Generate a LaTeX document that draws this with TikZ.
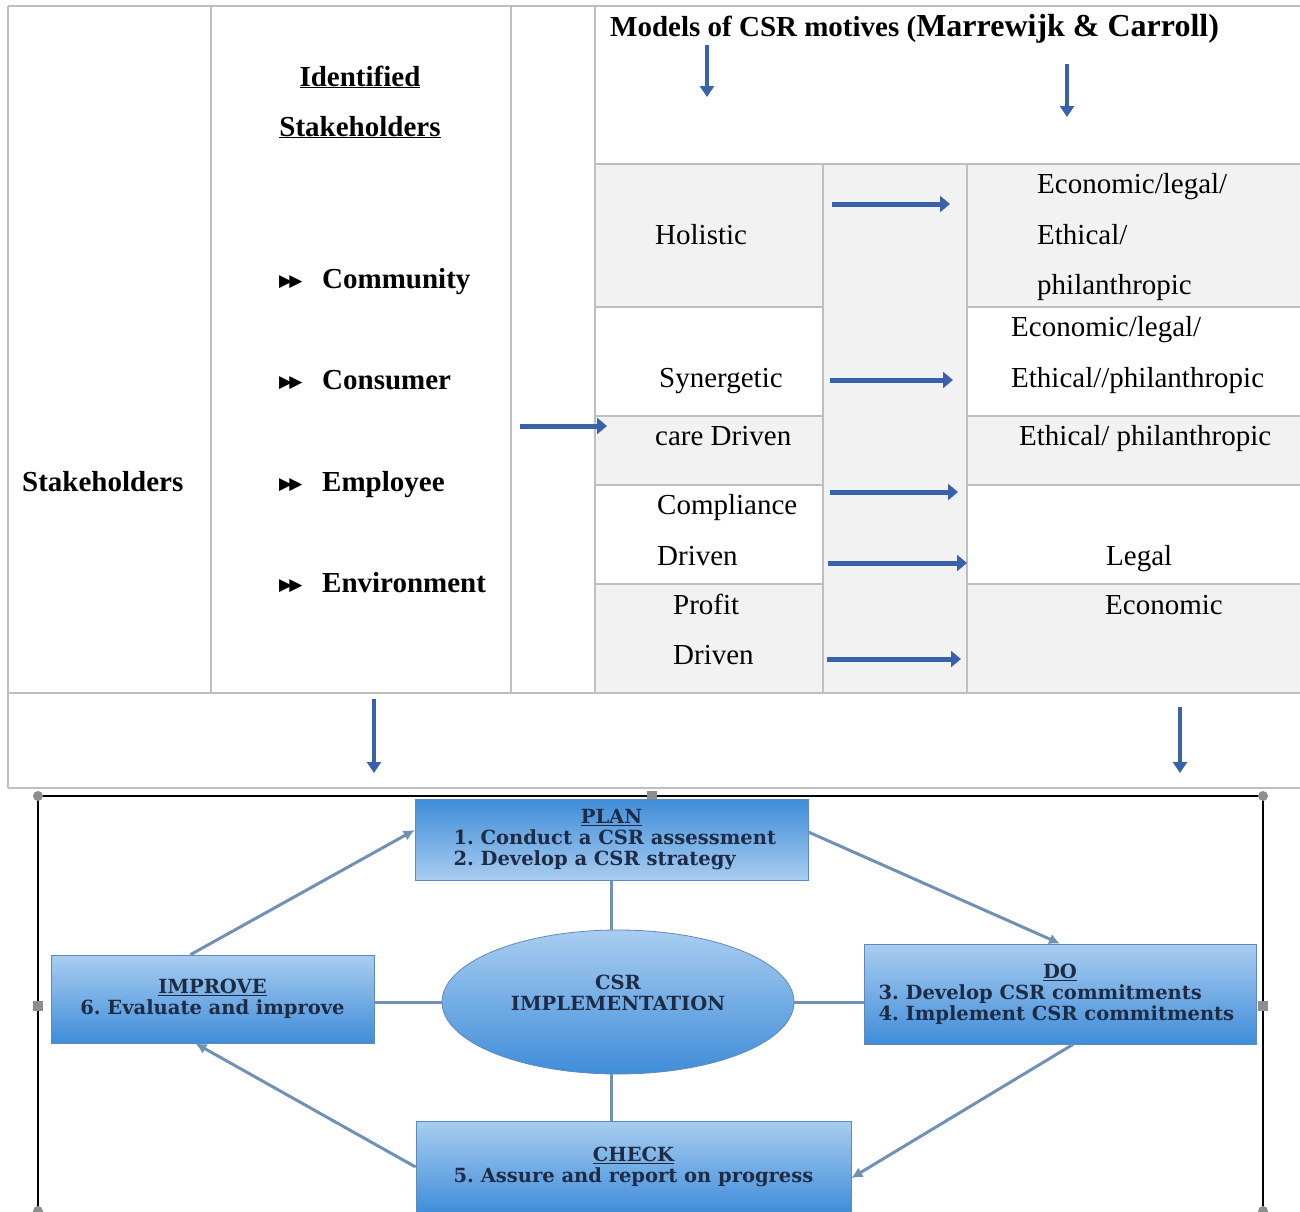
\documentclass[tikz,border=0pt]{standalone}
\usepackage{fontspec}
\setmainfont{Liberation Serif}
\newfontfamily\cyclefont{DejaVu Serif}
\newfontfamily\bulletfont{DejaVu Sans}
\usetikzlibrary{arrows.meta,shapes.geometric}

\definecolor{gridgrey}{HTML}{BFBFBF}
\definecolor{cellgrey}{HTML}{F2F2F2}
\definecolor{arrowblue}{HTML}{3A62AC}
\definecolor{boxblue}{HTML}{3F8DD9}
\definecolor{boxlight}{HTML}{A9CDF0}
\definecolor{boxedge}{HTML}{5E89BC}
\definecolor{linkblue}{HTML}{7090B6}
\definecolor{inkblue}{HTML}{1E2B45}
\definecolor{handlegrey}{HTML}{8E8E8E}

\newcommand{\dbl}{{\bulletfont\fontsize{17}{17}\selectfont ▶\kern-3pt▶}}

\begin{document}
\begin{tikzpicture}[x=1pt,y=-1pt,
  grid/.style={draw=gridgrey,line width=2pt},
  tabarrow/.style={draw=arrowblue,line width=5pt,-{Triangle[length=10pt,width=16pt]}},
  droparrow/.style={draw=arrowblue,line width=4pt,-{Triangle[length=11pt,width=14pt]}},
  celltext/.style={font=\fontsize{29}{34}\selectfont,inner sep=0pt,anchor=base west},
  boldtext/.style={celltext,font=\fontsize{29}{34}\selectfont\bfseries},
  pdca/.style={draw=boxedge,line width=0.8pt,top color=boxlight,bottom color=boxblue,
    text=inkblue,font=\cyclefont\bfseries\fontsize{19.5}{21}\selectfont,inner sep=0pt},
  link/.style={draw=linkblue,line width=3pt},
  cycle/.style={link,-{Latex[length=11pt,width=11pt]}}]
  \useasboundingbox (0,0) rectangle (1300,1211);
  \clip (0,0) rectangle (1300,1211);

  % table cells
  \fill[cellgrey] (595,164) rectangle (823,307);
  \fill[cellgrey] (967,164) rectangle (1300,307);
  \fill[cellgrey] (823,164) rectangle (967,693);
  \fill[cellgrey] (595,416) rectangle (823,485);
  \fill[cellgrey] (967,416) rectangle (1300,485);
  \fill[cellgrey] (595,584) rectangle (823,693);
  \fill[cellgrey] (967,584) rectangle (1300,693);

  \draw[grid] (8,6) -- (1300,6);
  \draw[grid] (8,693) -- (1300,693);
  \draw[grid] (8,788) -- (1300,788);
  \draw[grid] (8,6) -- (8,788);
  \foreach \x in {211,511,595}
    \draw[grid] (\x,6) -- (\x,693);
  \draw[grid] (595,164) -- (1300,164);
  \foreach \x in {823,967}
    \draw[grid] (\x,164) -- (\x,693);
  \foreach \y in {307,416,485,584} {
    \draw[grid] (595,\y) -- (823,\y);
    \draw[grid] (967,\y) -- (1300,\y);
  }

  % stakeholders
  \node[boldtext] (stake) at (22,491) {Stakeholders};
  \node[boldtext,anchor=base] (ident) at (360,86) {\underline{Identified}};
  \node[boldtext,anchor=base] (identb) at (360,136) {\underline{Stakeholders}};
  \foreach \name/\y in {Community/288,Consumer/389,Employee/491,Environment/592} {
    \node[celltext] (bul-\name) at (279,\y-2) {\dbl};
    \node[boldtext] (\name) at (322,\y) {\name};
  }

  % motives
  \node[boldtext] (models) at (610,36)
    {Models of CSR motives (\fontsize{32}{34}\selectfont Marrewijk \& Carroll)};
  \node[celltext] (holistic) at (655,244) {Holistic};
  \node[celltext] (hol-a) at (1037,193) {Economic/legal/};
  \node[celltext] (hol-b) at (1037,244) {Ethical/};
  \node[celltext] (hol-c) at (1037,294) {philanthropic};
  \node[celltext] (synergetic) at (659,387) {Synergetic};
  \node[celltext] (syn-a) at (1011,336) {Economic/legal/};
  \node[celltext] (syn-b) at (1011,387) {Ethical//philanthropic};
  \node[celltext] (care) at (655,445) {care Driven};
  \node[celltext] (care-a) at (1019,445) {Ethical/ philanthropic};
  \node[celltext] (compliance) at (657,514) {Compliance};
  \node[celltext] (compliance-b) at (657,565) {Driven};
  \node[celltext] (legal) at (1106,565) {Legal};
  \node[celltext] (profit) at (673,614) {Profit};
  \node[celltext] (profit-b) at (673,664) {Driven};
  \node[celltext] (economic) at (1105,614) {Economic};

  % table arrows
  \foreach \name/\xa/\xb/\y in {feed/520/607/426,hol/832/950/204,syn/830/953/380,
      comp/830/958/492,legal/828/967/563,prof/827/961/659} {
    \coordinate (\name-from) at (\xa,\y);
    \coordinate (\name-to) at (\xb,\y);
    \draw[tabarrow] (\name-from) -- (\name-to);
  }
  \foreach \name/\x/\ya/\yb in {mod-l/707/45/97,mod-r/1067/64/117,
      down-l/374/699/773,down-r/1180/707/773} {
    \coordinate (\name-from) at (\x,\ya);
    \coordinate (\name-to) at (\x,\yb);
    \draw[droparrow] (\name-from) -- (\name-to);
  }

  % picture frame
  \draw[line width=1.2pt] (38,1230) -- (38,796) -- (1263,796) -- (1263,1230);
  \foreach \x/\y in {38/796,1263/796,38/1211,1263/1211}
    \fill[handlegrey] (\x,\y) circle (5);
  \foreach \x/\y in {652/796,38/1006,1263/1006,652/1211}
    \fill[handlegrey] (\x-5,\y-5) rectangle (\x+5,\y+5);

  % CSR cycle
  \node[pdca,top color=boxblue,bottom color=boxlight,minimum width=393pt,minimum height=81pt,
    align=center] (plan) at (611.5,840)
    {\underline{PLAN}\\\makebox[316pt][l]{1.\ Conduct a CSR assessment}\\
     \makebox[316pt][l]{2.\ Develop a CSR strategy}};
  \node[pdca,minimum width=392pt,minimum height=100pt,align=center] (do) at (1060,994)
    {\underline{DO}\\\makebox[363pt][l]{3.\ Develop CSR commitments}\\
     \makebox[363pt][l]{4.\ Implement CSR commitments}};
  \node[pdca,minimum width=323pt,minimum height=88pt,align=center] (improve) at (212.5,999)
    {\underline{IMPROVE}\\6.\ Evaluate and improve};
  \node[pdca,minimum width=435pt,minimum height=92pt,align=center] (check) at (633.5,1167)
    {\underline{CHECK}\\5.\ Assure and report on progress};
  \node[pdca,ellipse,minimum width=352pt,minimum height=144pt,
    label={[yshift=9pt,align=center,text=inkblue,
      font=\cyclefont\bfseries\fontsize{19.5}{21}\selectfont]center:CSR\\IMPLEMENTATION}]
    (core) at (618,1002) {};

  \draw[link] (plan.south) -- (plan.south |- core.north);
  \draw[link] (plan.south |- core.south) -- (plan.south |- check.north);
  \draw[link] (core.west) -- (core.west -| improve.east);
  \draw[link] (core.east) -- (core.east -| do.west);
  \draw[cycle] ([xshift=-22pt]improve.north) -- ([yshift=10pt]plan.west);
  \draw[cycle] ([yshift=8pt]plan.east) -- (do.north);
  \draw[cycle] ([xshift=13pt]do.south) -- ([yshift=-11pt]check.east);
  \draw[cycle] (check.west) -- ([xshift=-17pt]improve.south);
\end{tikzpicture}
\end{document}
